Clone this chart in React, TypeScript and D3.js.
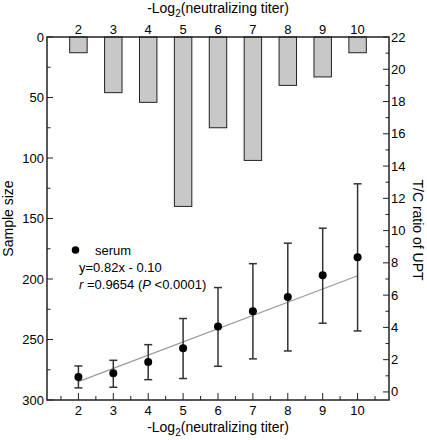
import React from "react";
import * as d3 from "d3";

const titers = [2, 3, 4, 5, 6, 7, 8, 9, 10];
const sampleSize = [13, 46, 54, 140, 75, 102, 40, 33, 13];
const ratioMean = [0.93, 1.16, 1.86, 2.71, 4.05, 5.0, 5.89, 7.23, 8.35];
const ratioUpper = [1.61, 1.96, 2.93, 4.55, 6.47, 7.95, 9.22, 10.15, 12.9];
const ratioLower = [0.25, 0.29, 0.76, 0.83, 1.59, 2.05, 2.54, 4.26, 3.78];
const fitX = [2, 10];
const fitY = [0.64, 7.2];
const leftTicks = [0, 50, 100, 150, 200, 250, 300];
const leftMinor = [25, 75, 125, 175, 225, 275];
const rightTicks = [0, 2, 4, 6, 8, 10, 12, 14, 16, 18, 20, 22];
const rightMinor = [1, 3, 5, 7, 9, 11, 13, 15, 17, 19, 21];
const xMinor = [1.5, 2.5, 3.5, 4.5, 5.5, 6.5, 7.5, 8.5, 9.5, 10.5];

const W = 427, H = 440;
const L = 47, R = 389, T = 37, B = 400;
const font = "Liberation Sans, Arial, sans-serif";

export default function App() {
  const x = d3.scaleLinear().domain([1.1, 10.9]).range([L, R]);
  const yL = d3.scaleLinear().domain([0, 300]).range([T, B]);
  const yR = d3.scaleLinear().domain([-0.5, 22]).range([B, T]);
  const barW = x(2.5) - x(2);
  const line = d3.line<number>().x((d, i) => x(fitX[i])).y((d) => yR(d));

  const Title = ({ y }: { y: number }) => (
    <text x={(L + R) / 2} y={y} textAnchor="middle" fontSize={14} fontFamily={font}>
      -Log<tspan fontSize={10} dy={4}>2</tspan>
      <tspan dy={-4}>(neutralizing titer)</tspan>
    </text>
  );

  return (
    <svg width={W} height={H} style={{ position: "absolute", left: 0, top: 0 }}>
      <rect width={W} height={H} fill="#fff" />
      {titers.map((t, i) => (
        <rect
          key={"b" + t}
          x={x(t) - barW / 2}
          y={yL(0)}
          width={barW}
          height={yL(sampleSize[i]) - yL(0)}
          fill="#c8c8c8"
          stroke="#222"
          strokeWidth={1}
        />
      ))}
      <path d={line(fitY) || ""} fill="none" stroke="#9a9a9a" strokeWidth={1.2} />
      {titers.map((t, i) => (
        <g key={"e" + t} stroke="#333" strokeWidth={1.5}>
          <line x1={x(t)} x2={x(t)} y1={yR(ratioUpper[i])} y2={yR(ratioLower[i])} />
          <line x1={x(t) - 4} x2={x(t) + 4} y1={yR(ratioUpper[i])} y2={yR(ratioUpper[i])} />
          <line x1={x(t) - 4} x2={x(t) + 4} y1={yR(ratioLower[i])} y2={yR(ratioLower[i])} />
        </g>
      ))}
      {titers.map((t, i) => (
        <circle key={"p" + t} cx={x(t)} cy={yR(ratioMean[i])} r={4} fill="#000" />
      ))}
      <rect x={L} y={T} width={R - L} height={B - T} fill="none" stroke="#222" strokeWidth={1.5} />
      {titers.map((t) => (
        <g key={"bt" + t}>
          <line x1={x(t)} x2={x(t)} y1={B} y2={B - 7} stroke="#222" strokeWidth={1} />
          <text x={x(t)} y={415} textAnchor="middle" fontSize={13} fontFamily={font}>{t}</text>
          <text x={x(t)} y={34} textAnchor="middle" fontSize={13} fontFamily={font}>{t}</text>
        </g>
      ))}
      {xMinor.map((t) => (
        <line key={"bm" + t} x1={x(t)} x2={x(t)} y1={B} y2={B - 4} stroke="#222" strokeWidth={1} />
      ))}
      {leftTicks.map((v) => (
        <g key={"lt" + v}>
          <line x1={L} x2={L + 6} y1={yL(v)} y2={yL(v)} stroke="#222" strokeWidth={1} />
          <text x={44} y={yL(v) + 4.5} textAnchor="end" fontSize={13} fontFamily={font}>{v}</text>
        </g>
      ))}
      {leftMinor.map((v) => (
        <line key={"lm" + v} x1={L} x2={L + 3.5} y1={yL(v)} y2={yL(v)} stroke="#222" strokeWidth={1} />
      ))}
      {rightTicks.map((v) => (
        <g key={"rt" + v}>
          <line x1={R} x2={R - 6} y1={yR(v)} y2={yR(v)} stroke="#222" strokeWidth={1} />
          <text x={391} y={yR(v) + 4.5} textAnchor="start" fontSize={13} fontFamily={font}>{v}</text>
        </g>
      ))}
      {rightMinor.map((v) => (
        <line key={"rm" + v} x1={R} x2={R - 3.5} y1={yR(v)} y2={yR(v)} stroke="#222" strokeWidth={1} />
      ))}
      <Title y={13} />
      <Title y={432} />
      <text transform={`translate(13,${(T + B) / 2}) rotate(-90)`} textAnchor="middle" fontSize={14} fontFamily={font}>
        Sample size
      </text>
      <text transform={`translate(413,230) rotate(90)`} textAnchor="middle" fontSize={14} fontFamily={font}>
        T/C ratio of UPT
      </text>
      <circle cx={75.5} cy={250} r={3.8} fill="#000" />
      <text x={95} y={254.5} fontSize={13} fontFamily={font}>serum</text>
      <text x={79} y={272} fontSize={13} fontFamily={font}>y=0.82x - 0.10</text>
      <text x={79} y={289} fontSize={13} fontFamily={font}>
        <tspan fontStyle="italic">r</tspan> =0.9654 (<tspan fontStyle="italic">P</tspan> &lt;0.0001)
      </text>
    </svg>
  );
}
